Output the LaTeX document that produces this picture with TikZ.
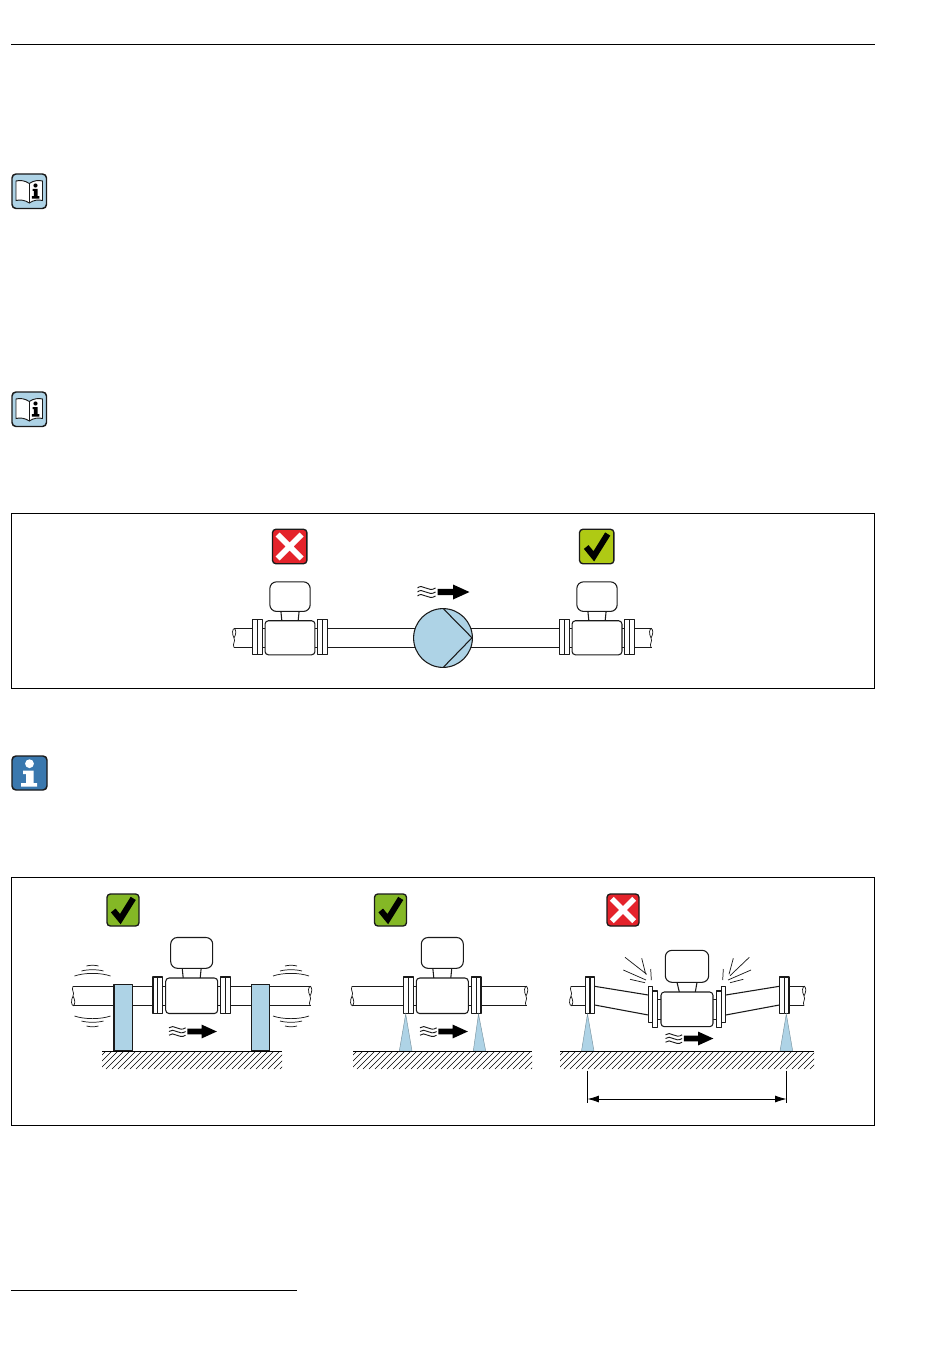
\documentclass[tikz,border=0pt]{standalone}
\usetikzlibrary{arrows.meta}
\definecolor{pale}{HTML}{AED3E6}
\definecolor{xred}{HTML}{E4232B}
\definecolor{oklime}{HTML}{AFCA14}
\definecolor{okgreen}{HTML}{84B826}
\definecolor{infoblue}{HTML}{3A78AE}
\definecolor{inkdark}{HTML}{1A1A1A}
\tikzset{
  x=0.75pt,y=-0.75pt,
  ln/.style={line width=0.8pt,draw=inkdark,line join=round},
  thin ln/.style={line width=0.55pt,draw=inkdark},
  frame ln/.style={line width=0.6pt,draw=black},
  paleshape/.style={fill=pale,ln},
  pics/meter/.style={code={
    \draw[ln] (-29,-9.7)--(-26,-9.7) (-29,9.7)--(-26,9.7) (29,-9.7)--(26,-9.7) (29,9.7)--(26,9.7);
    \draw[ln,fill=white] (-9.5,-28)--(-8.5,-18) (9.5,-28)--(8.5,-18);
    \draw[ln,fill=white,rounded corners=5pt] (-21,-58.5) rectangle (21,-27.7);
    \draw[ln,fill=white,rounded corners=2.5pt] (-26,-18) rectangle (26,17.5);
    \foreach \s in {-1,1}{
      \draw[ln,fill=white] (\s*29,-19) rectangle (\s*38.7,17.5);
      \draw[ln] (\s*33.8,-19)--(\s*33.8,17.5);
    }
  }},
  pics/flow/.style={code={
    \foreach \d in {-4,0,4}
      \draw[line width=0.7pt,draw=inkdark] (0,\d) .. controls (5,\d-5) and (11,\d+5) .. (18,\d);
    \fill[black] (20,-3.2)--(35.5,-3.2)--(35.5,-7.5)--(52,0)--(35.5,7.5)--(35.5,3.2)--(20,3.2)--cycle;
  }},
  pics/okbadge/.style={code={
    \draw[line width=1pt,draw=inkdark,fill=#1,rounded corners=2.5pt] (-17.2,-17.2) rectangle (17.2,17.2);
    \draw[line width=4.5pt,black,miter limit=10] (-10.5,0.5)--(-2.9,9.8)--(11,-12.5);
  }},
  pics/nobadge/.style={code={
    \draw[line width=1pt,draw=inkdark,fill=xred,rounded corners=2.5pt] (-17.2,-17.2) rectangle (17.2,17.2);
    \draw[line width=4.2pt,white] (-12,-12)--(12,12) (-12,12)--(12,-12);
  }},
  pics/bookicon/.style={code={
    \draw[line width=1.1pt,draw=inkdark,fill=pale,rounded corners=3pt] (0,0) rectangle (34.5,34.5);
    \draw[line width=0.7pt,draw=inkdark,fill=white] (17.3,9.5) .. controls (13,6.5) and (8,6) .. (4,7)
      -- (4,26.5) .. controls (8,25.5) and (13,26) .. (17.3,29)
      .. controls (21.5,26) and (26.5,25.5) .. (30.5,26.5) -- (30.5,7)
      .. controls (26.5,6) and (21.5,6.5) .. (17.3,9.5) -- cycle;
    \draw[line width=0.7pt,draw=inkdark] (17.3,9.5)--(17.3,29);
    \fill[black] (23.5,11.5) circle (2.1);
    \fill[black] (20.6,15)--(25.6,15)--(25.6,22.2)--(27.4,22.2)--(27.4,24.6)--(19.8,24.6)--(19.8,22.2)--(21.8,22.2)--(21.8,17)--(20.6,17)--cycle;
  }},
}
\newcommand{\PipeEnd}[3]{% x, top y, bottom y : break with a small leaf at the lower half
  \draw[thin ln] (#1,#2) .. controls (#1-2,#2+4) and (#1+2,#2+6) .. (#1,{(#2+#3)/2})
    .. controls (#1-2.5,#3-5) and (#1-1.5,#3) .. (#1+0.5,#3)
    .. controls (#1+2.5,#3-2) and (#1+2,#3-6) .. (#1,{(#2+#3)/2});
}
\newcommand{\GroundHatch}[2]{%
  \begin{scope}
    \clip (#1,1051) rectangle (#2,1069);
    \pgfmathtruncatemacro{\xs}{#1-20}
    \pgfmathtruncatemacro{\xn}{#1-14}
    \foreach \hx in {\xs,\xn,...,#2}
      \draw[line width=0.45pt,black] (\hx,1069)--(\hx+18,1051);
  \end{scope}
  \draw[line width=0.6pt,black] (#1,1051)--(#2,1051);
}
\newcommand{\Wedge}[3]{% apex x, base left, base right
  \draw[line width=0.35pt,draw=pale!70!black,fill=pale] (#1,1014)--(#2,1051)--(#3,1051)--cycle;
}
\begin{document}
\begin{tikzpicture}
\useasboundingbox (0,0) rectangle (950,1369);
\fill[white] (0,0) rectangle (950,1369);
% page rules
\draw[frame ln] (11,44)--(875,44);
\draw[frame ln] (11,1290)--(297,1290);
% icons
\pic at (12,174) {bookicon};
\pic at (12,392) {bookicon};
\draw[line width=1.1pt,draw=inkdark,fill=infoblue,rounded corners=3pt] (12,756) rectangle (47,790);
\fill[white] (29.5,763.7) circle (4.4);
\fill[white] (23,770.5)--(33.5,770.5)--(33.5,783)--(37,783)--(37,786.5)--(21,786.5)--(21,783)--(26,783)--(26,774)--(23,774)--cycle;
% ---------- panel 1
\draw[frame ln] (11.5,513) rectangle (874.5,688);
\pic at (289.7,546.5) {nobadge};
\pic at (596.7,546.5) {okbadge=oklime};
\draw[ln] (234,628.5)--(252,628.5) (234,647.5)--(252,647.5);
\begin{scope}[yscale=-1,shift={(0,-1276)}]
\PipeEnd{234}{628.5}{647.5}
\end{scope}
\draw[ln] (327,628.5)--(416,628.5) (327,647.5)--(416,647.5);
\draw[ln] (470,628.5)--(559,628.5) (470,647.5)--(559,647.5);
\draw[ln] (634,628.5)--(652,628.5) (634,647.5)--(652,647.5);
\begin{scope}[yscale=-1,shift={(0,-1276)}]
\PipeEnd{651}{628.5}{647.5}
\end{scope}
\pic[scale=0.96] at (290,638) {meter};
\pic[scale=0.96] at (597,638) {meter};
\draw[paleshape] (443,638) circle (29.4);
\draw[ln] (443.6,609)--(472,637.8)--(443.6,667);
\pic at (417.5,592) {flow};
% ---------- panel 2
\draw[frame ln] (11.5,877) rectangle (874.5,1125.5);
\pic[scale=0.93] at (123,910) {okbadge=okgreen};
\pic[scale=0.93] at (390.5,910) {okbadge=okgreen};
\pic[scale=0.93] at (623,910) {nobadge};
% left installation
\draw[ln] (73,986.3)--(153,986.3) (73,1005.7)--(153,1005.7);
\draw[ln] (231,986.3)--(311,986.3) (231,1005.7)--(311,1005.7);
\PipeEnd{73}{986.3}{1005.7}
\begin{scope}[yscale=-1,shift={(0,-1992)}]
\PipeEnd{310}{986.3}{1005.7}
\end{scope}
\pic at (191.7,996) {meter};
\draw[paleshape] (114,984.3) rectangle (132.3,1051);
\draw[paleshape] (251.3,984.3) rectangle (269.7,1051);
\foreach \cx in {92.5,291}{
  \draw[thin ln] (\cx-18,976) .. controls (\cx-8,972.5) and (\cx+8,972.5) .. (\cx+18,976);
  \draw[thin ln] (\cx-11,971) .. controls (\cx-5,969.3) and (\cx+5,969.3) .. (\cx+11,971);
  \draw[thin ln] (\cx-6,966) .. controls (\cx-3,965) and (\cx+3,965) .. (\cx+6,966);
  \draw[thin ln] (\cx-18,1016) .. controls (\cx-8,1019.5) and (\cx+8,1019.5) .. (\cx+18,1016);
  \draw[thin ln] (\cx-11,1021) .. controls (\cx-5,1022.7) and (\cx+5,1022.7) .. (\cx+11,1021);
  \draw[thin ln] (\cx-6,1026) .. controls (\cx-3,1027) and (\cx+3,1027) .. (\cx+6,1026);
}
\pic[scale=0.92] at (169,1031.5) {flow};
\GroundHatch{102}{282}
% middle installation
\draw[ln] (352,986.3)--(403,986.3) (352,1005.7)--(403,1005.7);
\draw[ln] (482,986.3)--(527,986.3) (482,1005.7)--(527,1005.7);
\PipeEnd{352}{986.3}{1005.7}
\begin{scope}[yscale=-1,shift={(0,-1992)}]
\PipeEnd{526}{986.3}{1005.7}
\end{scope}
\pic at (442.3,996) {meter};
\Wedge{405.7}{399.3}{412}
\Wedge{478.5}{473.3}{485.7}
\pic[scale=0.92] at (420,1031.5) {flow};
\GroundHatch{353}{532}
% right installation
\draw[ln] (571,986.3)--(585.3,986.3) (571,1005.7)--(585.3,1005.7);
\draw[ln] (789,986.3)--(804,986.3) (789,1005.7)--(804,1005.7);
\PipeEnd{571}{986.3}{1005.7}
\begin{scope}[yscale=-1,shift={(0,-1992)}]
\PipeEnd{804}{986.3}{1005.7}
\end{scope}
\draw[ln] (594.7,986.3)--(648.3,995) (594.7,1005)--(648.3,1015);
\draw[ln] (725.7,995)--(779.3,986.3) (725.7,1015)--(779.3,1005);
\draw[ln] (657.7,999.3)--(661,999.3) (657.7,1019.3)--(661,1019.3) (713,999.3)--(716.3,999.3) (713,1019.3)--(716.3,1019.3);
\draw[ln] (677,982.3)--(679.3,992) (697,982.3)--(695.3,992);
\draw[ln,fill=white,rounded corners=5pt] (665.3,950.3) rectangle (708.7,982.3);
\draw[ln,fill=white,rounded corners=2.5pt] (661,992) rectangle (713,1026.7);
\foreach \a/\b/\c/\d in {648.3/652.7/986.3/1022.3,652.7/657.7/991/1027.7,716.3/721.3/991/1027.7,721.3/725.7/986.3/1022.3,585.3/590/977/1013.5,590/594.7/977/1013.5,779.3/784.2/977/1013.5,784.2/789/977/1013.5}
  \draw[ln,fill=white] (\a,\c) rectangle (\b,\d);
\draw[thin ln] (625,957.3)--(646.7,974.3) (641.7,958.3)--(645.7,974.3) (623.3,970)--(646,980) (630,979.3)--(645,982.7) (650.7,969)--(651.3,980);
\draw[thin ln] (723.3,969)--(722.7,980) (733.3,958.3)--(729,974.3) (749.3,957.3)--(730,975.7) (751,970)--(728,980) (743.3,979.3)--(730,982.7);
\Wedge{587.5}{581.5}{594}
\Wedge{786.3}{780}{792.7}
\pic[scale=0.92] at (665.5,1038.5) {flow};
\GroundHatch{560}{814}
% dimension
\coordinate (dimA) at (587.5,1099);
\coordinate (dimB) at (786.5,1099);
\draw[line width=0.6pt,black] (587.5,1070.7)--(587.5,1103) (786.5,1070.7)--(786.5,1103);
\draw[line width=0.6pt,black,{Latex[length=8.5pt,width=5.2pt]}-{Latex[length=8.5pt,width=5.2pt]}] (dimA)--(dimB);
\end{tikzpicture}
\end{document}
